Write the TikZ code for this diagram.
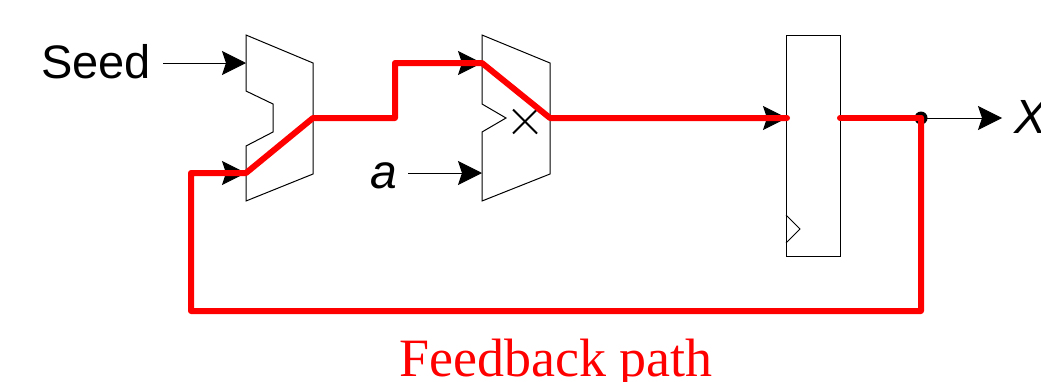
\documentclass[tikz,border=0pt]{standalone}
\usepackage{fontspec}
\setmainfont{Liberation Serif}
\setsansfont{Liberation Sans}
\usetikzlibrary{arrows.meta}
\begin{document}
\begin{tikzpicture}[x=1pt,y=-1pt,
    thinline/.style={line width=1pt, black},
    feedback/.style={line width=6pt, red, line join=round, line cap=round},
    inarrow/.style={thinline, -{Stealth[length=24pt,width=24pt,inset=4pt]}},
    field label/.style={font=\sffamily\fontsize{47}{47}\selectfont, text=black, inner sep=0pt, anchor=base},
    field symbol/.style={font=\sffamily\itshape\fontsize{48}{48}\selectfont, text=black, inner sep=0pt, anchor=base}
]
\useasboundingbox (0,0) rectangle (1041,381);
% Adder
\draw[thinline] (246,35) -- (313,63) -- (313,174) -- (246,201) -- (246,146) -- (273,132) -- (273,104) -- (246,91) -- cycle;
% Multiplier
\draw[thinline] (482,35) -- (550,63) -- (550,174) -- (482,201) -- (482,132) -- (506,118) -- (482,104) -- cycle;
\draw[thinline, line width=1.8pt] (513,109.5) -- (537,133.5);
\draw[thinline, line width=1.8pt] (537,109.5) -- (513,133.5);
% Register
\draw[thinline] (786,35) rectangle (840,256);
\draw[thinline] (786,215) -- (800,229) -- (786,243);
% Labels
\node[field label] (seed) at (96,78) {Seed};
\node[field symbol] (a) at (383.5,188) {a};
\node[field symbol] (x) at (1030,133) {X};
\node[inner sep=0pt, anchor=base, text=red, font=\fontsize{54}{54}\selectfont] (path) at (556,376) {Feedback path};
% Path points
\coordinate (addtop) at (246,63);
\coordinate (addbot) at (246,173);
\coordinate (addout) at (313,118);
\coordinate (multtop) at (482,63);
\coordinate (multbot) at (482,173);
\coordinate (multout) at (550,118);
\coordinate (regin) at (787,118);
\coordinate (regout) at (840,118);
\coordinate (tap) at (921,118);
\coordinate (xend) at (1002,118);
% Arrows under the red line
\draw[inarrow, shorten <=12pt] (seed.east |- addtop) -- (addtop);
\draw[inarrow, shorten <=11pt] (a.east |- multbot) -- (multbot);
\draw[inarrow] (tap) -- (xend);
\draw[inarrow] (222,173) -- (addbot);
\draw[inarrow] (458,63) -- (multtop);
\draw[inarrow] (764,118) -- (regin);
\fill[black] (tap) circle (6.5pt);
% Feedback loop
\draw[feedback] (tap) -- (921,311) -- (191,311) -- (191,173) -- (addbot) -- (addout) -- (395,118) -- (395,63) -- (multtop) -- (multout) -- (regin);
\draw[feedback] (regout) -- (tap);
\end{tikzpicture}
\end{document}
